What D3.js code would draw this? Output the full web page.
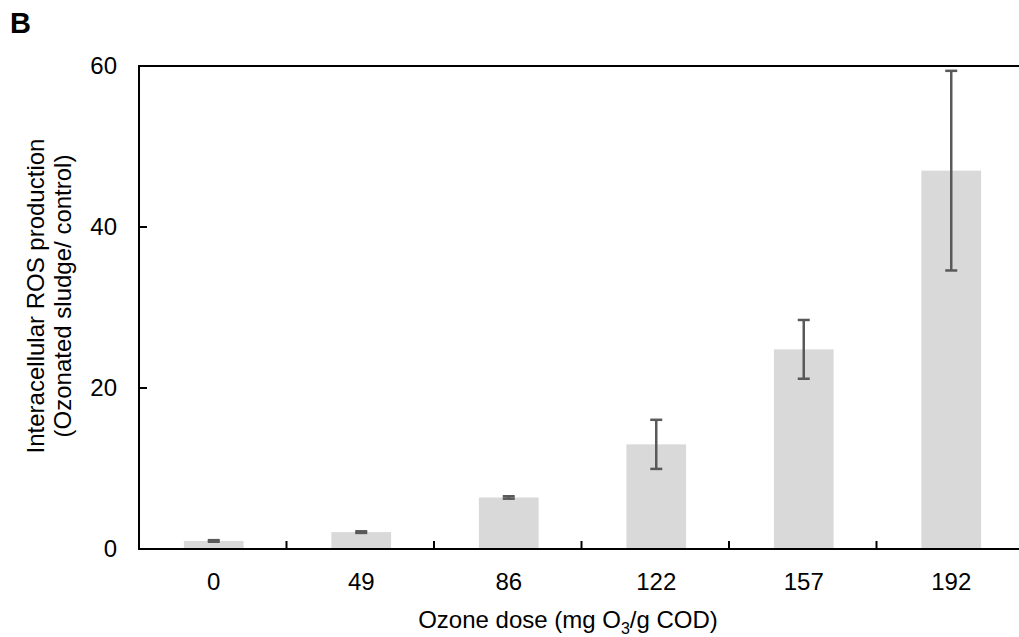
<!DOCTYPE html>
<html>
<head>
    <title></title>
    <meta charset="utf-8">
    <style>
        body { margin: 0; background: #fff; }
        text { font-family: "Liberation Sans", Arial, sans-serif; }
    </style>
</head>
<body>
<script src="https://d3js.org/d3.v7.min.js"></script>
<script>
    // values
    var doses = ['0', '49', '86', '122', '157', '192'];
    var rosMean = [1.0, 2.1, 6.4, 13.0, 24.8, 47.0];
    var rosErr = [0.1, 0.1, 0.15, 3.05, 3.65, 12.4];
    var yTicks = [0, 20, 40, 60];

    var W = 1019, H = 637;
    var svg = d3.select('body').append('svg')
        .attr('width', W)
        .attr('height', H);

    // plot box (right side runs off the page like the original)
    var plotL = 139, plotR = 1024, plotT = 66, plotB = 549;

    var x = d3.scaleBand().domain(doses).range([plotL + 1, plotR + 1]).padding(0);
    var y = d3.scaleLinear().domain([0, 60]).range([plotB, plotT]);
    var barW = x.bandwidth() * 0.405;

    // bars
    svg.selectAll('rect.bar').data(doses).enter().append('rect')
        .attr('class', 'bar')
        .attr('x', function (d) { return x(d) + x.bandwidth() / 2 - barW / 2; })
        .attr('y', function (d, i) { return y(rosMean[i]); })
        .attr('width', barW)
        .attr('height', function (d, i) { return plotB - y(rosMean[i]); })
        .style('fill', '#d9d9d9');

    // error bars
    var eb = svg.selectAll('g.err').data(doses).enter().append('g')
        .attr('class', 'err')
        .attr('transform', function (d) { return 'translate(' + (x(d) + x.bandwidth() / 2) + ',0)'; })
        .style('stroke', '#595959')
        .style('stroke-width', 2.5);
    eb.append('line')
        .attr('y1', function (d, i) { return y(rosMean[i] + rosErr[i]); })
        .attr('y2', function (d, i) { return y(rosMean[i] - rosErr[i]); });
    eb.append('line').attr('x1', -6).attr('x2', 6)
        .attr('y1', function (d, i) { return y(rosMean[i] + rosErr[i]); })
        .attr('y2', function (d, i) { return y(rosMean[i] + rosErr[i]); });
    eb.append('line').attr('x1', -6).attr('x2', 6)
        .attr('y1', function (d, i) { return y(rosMean[i] - rosErr[i]); })
        .attr('y2', function (d, i) { return y(rosMean[i] - rosErr[i]); });

    // frame: left, bottom and top lines
    var frame = svg.append('g').style('stroke', '#000').style('stroke-width', 2).style('fill', 'none');
    frame.append('line').attr('x1', plotL).attr('x2', plotL).attr('y1', plotT - 1).attr('y2', plotB + 1);
    frame.append('line').attr('x1', plotL - 1).attr('x2', W).attr('y1', plotB).attr('y2', plotB);
    frame.append('line').attr('x1', plotL - 1).attr('x2', W).attr('y1', plotT).attr('y2', plotT);

    // y ticks (inside) and labels
    frame.selectAll('line.yt').data(yTicks).enter().append('line')
        .attr('class', 'yt')
        .attr('x1', plotL).attr('x2', plotL + 8)
        .attr('y1', function (d) { return y(d); })
        .attr('y2', function (d) { return y(d); });
    svg.selectAll('text.yl').data(yTicks).enter().append('text')
        .attr('class', 'yl')
        .attr('x', 117)
        .attr('y', function (d) { return y(d); })
        .attr('dy', '0.35em')
        .attr('text-anchor', 'end')
        .style('font-size', '24px')
        .text(function (d) { return d; });

    // x ticks between categories (inside)
    var bounds = doses.slice(1).map(function (d) { return x(d) - 1; });
    bounds.push(x(doses[doses.length - 1]) + x.bandwidth() - 1);
    frame.selectAll('line.xt').data(bounds).enter().append('line')
        .attr('class', 'xt')
        .attr('x1', function (d) { return d; })
        .attr('x2', function (d) { return d; })
        .attr('y1', plotB).attr('y2', plotB - 8);

    svg.selectAll('text.xl').data(doses).enter().append('text')
        .attr('class', 'xl')
        .attr('x', function (d) { return x(d) + x.bandwidth() / 2; })
        .attr('y', 590)
        .attr('text-anchor', 'middle')
        .style('font-size', '24px')
        .text(function (d) { return d; });

    // axis titles
    var xt = svg.append('text')
        .attr('x', 568).attr('y', 628)
        .attr('text-anchor', 'middle')
        .style('font-size', '24px');
    xt.append('tspan').text('Ozone dose (mg O');
    xt.append('tspan').attr('dy', 6).style('font-size', '16px').text('3');
    xt.append('tspan').attr('dy', -6).text('/g COD)');

    var yt = svg.append('text')
        .attr('transform', 'translate(0,296) rotate(-90)')
        .attr('text-anchor', 'middle')
        .style('font-size', '24px');
    yt.append('tspan').attr('x', 0).attr('y', 44).text('Interacellular ROS production');
    yt.append('tspan').attr('x', 0).attr('y', 71).text('(Ozonated sludge/ control)');

    // panel letter
    svg.append('text')
        .attr('x', 10).attr('y', 33)
        .style('font-size', '29px')
        .style('font-weight', 'bold')
        .text('B');
</script>
</body>
</html>
